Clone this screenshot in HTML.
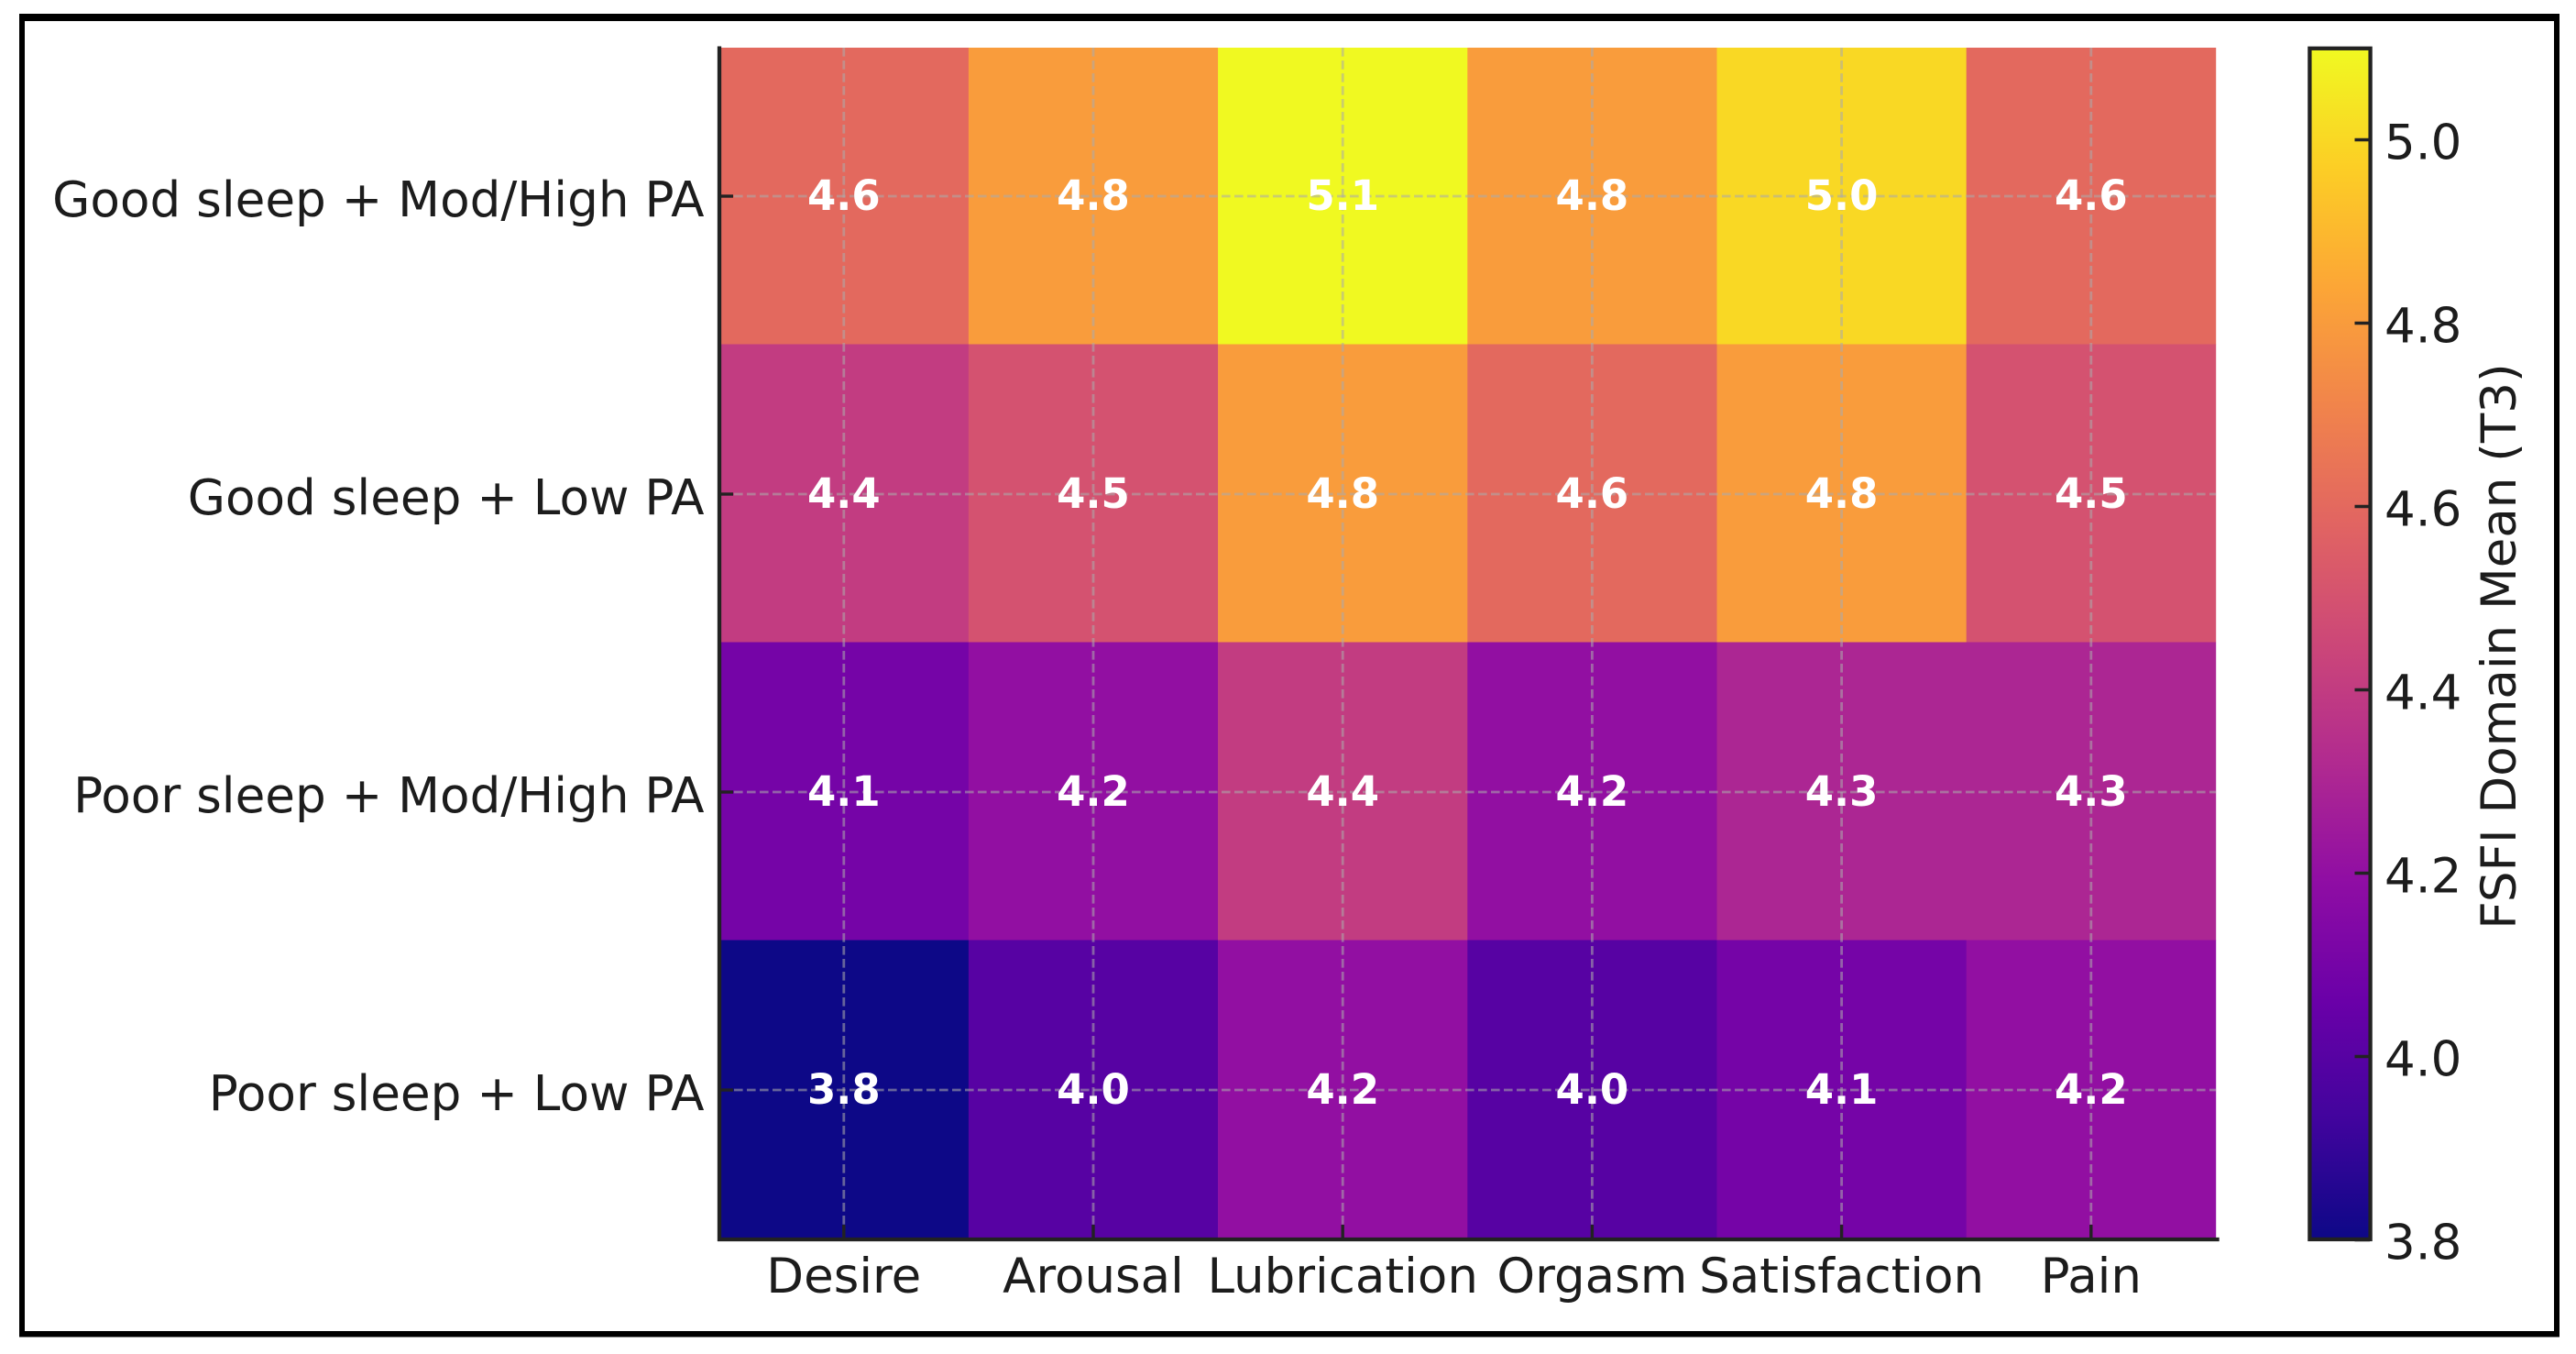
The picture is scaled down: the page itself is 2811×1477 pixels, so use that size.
<!DOCTYPE html>
<html lang="en">
<head>
<meta charset="utf-8">
<title>FSFI Domain Mean (T3) heatmap</title>
<style>
  html, body { margin: 0; padding: 0; background: #fff; }
  body { width: 2811px; height: 1477px; overflow: hidden; }
  svg { display: block; }
  text { font-family: "DejaVu Sans", "Liberation Sans", sans-serif; fill: #1c1c1c; }
</style>
</head>
<body>
<svg id="chart" xmlns="http://www.w3.org/2000/svg" width="2811" height="1477" viewBox="0 0 2811 1477">
  <rect x="0" y="0" width="2811" height="1477" fill="#ffffff"/>
  <g fill="#000000">
    <rect x="21" y="15" width="2772" height="8"/>
    <rect x="21" y="1452" width="2772" height="6.5"/>
    <rect x="21" y="15" width="6" height="1443.5"/>
    <rect x="2787" y="15" width="6" height="1443.5"/>
  </g>
  <defs>
    <clipPath id="plot-clip"><rect x="780" y="52" width="1640" height="1302"/></clipPath>
    <linearGradient id="plasma-gradient" gradientUnits="userSpaceOnUse" x1="0" y1="1352.5" x2="0" y2="52.5"></linearGradient>
  </defs>
  <g id="cells" clip-path="url(#plot-clip)"></g>
  <g id="grid"></g>
  <g id="annotations"></g>
  <g id="axes"></g>
  <g id="colorbar"></g>
</svg>
<script>
const columnLabels = ['Desire', 'Arousal', 'Lubrication', 'Orgasm', 'Satisfaction', 'Pain'];
const rowLabels = ['Good sleep + Mod/High PA', 'Good sleep + Low PA', 'Poor sleep + Mod/High PA', 'Poor sleep + Low PA'];
const goodSleepHighPA = [4.6, 4.8, 5.1, 4.8, 5.0, 4.6];
const goodSleepLowPA = [4.4, 4.5, 4.8, 4.6, 4.8, 4.5];
const poorSleepHighPA = [4.1, 4.2, 4.4, 4.2, 4.3, 4.3];
const poorSleepLowPA = [3.8, 4.0, 4.2, 4.0, 4.1, 4.2];
const colorbarTicks = [3.8, 4.0, 4.2, 4.4, 4.6, 4.8, 5.0];
const colorDomain = [3.8, 5.1];
const plasmaStops = ['#0d0887', '#41049d', '#6a00a8', '#8f0da4', '#b12a90', '#cc4778', '#e16462', '#f1844b', '#fca636', '#fcce25', '#f0f921'];

const matrix = [goodSleepHighPA, goodSleepLowPA, poorSleepHighPA, poorSleepLowPA];
const NS = 'http://www.w3.org/2000/svg';

// Axis functions
function colLeft(i) { return 784.7 + 272.2 * i; }
function colCenter(i) { return colLeft(i) + 136.1; }
function rowTop(i) { return 50.5 + 325 * i; }
function rowCenter(i) { return 214 + 325 * i; }
function colorbarY(v) { return 1352.5 - (v - colorDomain[0]) * 1000; }

function hexToRgb(h) {
  return [parseInt(h.slice(1, 3), 16), parseInt(h.slice(3, 5), 16), parseInt(h.slice(5, 7), 16)];
}
function colorFor(v) {
  const t = Math.max(0, Math.min(1, (v - colorDomain[0]) / (colorDomain[1] - colorDomain[0])));
  const pos = t * (plasmaStops.length - 1);
  const lo = Math.min(Math.floor(pos), plasmaStops.length - 2);
  const f = pos - lo;
  const a = hexToRgb(plasmaStops[lo]);
  const b = hexToRgb(plasmaStops[lo + 1]);
  return 'rgb(' + a.map(function (c, k) { return Math.round(c + (b[k] - c) * f); }).join(',') + ')';
}
function make(tag, parent, props) {
  const el = document.createElementNS(NS, tag);
  Object.keys(props).forEach(function (k) { el.setAttribute(k, props[k]); });
  parent.appendChild(el);
  return el;
}

const cellsGroup = document.getElementById('cells');
const gridGroup = document.getElementById('grid');
const annotationGroup = document.getElementById('annotations');
const axesGroup = document.getElementById('axes');
const colorbarGroup = document.getElementById('colorbar');
const gradient = document.getElementById('plasma-gradient');

// Heatmap cells and value labels
matrix.forEach(function (row, r) {
  row.forEach(function (value, c) {
    const cell = make('rect', cellsGroup, {
      x: colLeft(c), y: rowTop(r), width: 272.2 + 0.3, height: 325 + 0.3, fill: colorFor(value)
    });
    
    

    const label = make('text', annotationGroup, {
      x: colCenter(c), y: rowCenter(r) + 15, 'text-anchor': 'middle',
      'font-size': 45, 'font-weight': 'bold', style: 'fill:#ffffff'
    });
    
    
    label.textContent = value.toFixed(1);
  });
});

// Grid
const gridStyle = { stroke: '#aaaaaa', 'stroke-opacity': 0.57, 'stroke-width': 2.8, 'stroke-dasharray': '9.6 4.4', fill: 'none' };
columnLabels.forEach(function (name, c) {
  const line = make('line', gridGroup, Object.assign({ x1: colCenter(c), x2: colCenter(c), y1: 52, y2: 1350 }, gridStyle));
  
  
});
rowLabels.forEach(function (name, r) {
  const line = make('line', gridGroup, Object.assign({ x1: 787, x2: 2418, y1: rowCenter(r), y2: rowCenter(r) }, gridStyle));
  
  
});

// Axes: spines, ticks, tick labels
const leftSpine = make('line', axesGroup, { x1: 785, x2: 785, y1: 50.5, y2: 1354, stroke: '#222222', 'stroke-width': 4.3 });


const bottomSpine = make('line', axesGroup, { x1: 783, x2: 2421.7, y1: 1352, y2: 1352, stroke: '#222222', 'stroke-width': 4.3 });



rowLabels.forEach(function (name, r) {
  const tick = make('line', axesGroup, { x1: 785, x2: 800, y1: rowCenter(r), y2: rowCenter(r), stroke: '#222222', 'stroke-width': 3.4 });
  
  
  const label = make('text', axesGroup, { x: 768.5, y: rowCenter(r) + 22, 'text-anchor': 'end', 'font-size': 53.2 });
  
  
  label.textContent = name;
});
columnLabels.forEach(function (name, c) {
  const tick = make('line', axesGroup, { x1: colCenter(c), x2: colCenter(c), y1: 1336, y2: 1352, stroke: '#222222', 'stroke-width': 3.4 });
  
  
  const label = make('text', axesGroup, { x: colCenter(c), y: 1410, 'text-anchor': 'middle', 'font-size': 53 });
  
  
  label.textContent = name;
});

// Colorbar
plasmaStops.forEach(function (color, i) {
  const stop = make('stop', gradient, { offset: i / (plasmaStops.length - 1), 'stop-color': color });
  
  
});
const bar = make('rect', colorbarGroup, {
  x: 2520.4, y: colorbarY(colorDomain[1]), width: 66.2,
  height: colorbarY(colorDomain[0]) - colorbarY(colorDomain[1]), fill: 'url(#plasma-gradient)'
});


colorbarTicks.forEach(function (value) {
  const y = colorbarY(value);
  const tick = make('line', colorbarGroup, { x1: 2569.5, x2: 2586, y1: y, y2: y, stroke: '#222222', 'stroke-width': 3.4 });
  
  
  const label = make('text', colorbarGroup, { x: 2602, y: y + 21, 'font-size': 53 });
  
  
  label.textContent = value.toFixed(1);
});
const barOutline = make('rect', colorbarGroup, {
  x: 2520.4, y: 52.8, width: 66.2, height: 1299.1, fill: 'none', stroke: '#222222', 'stroke-width': 4.3
});


const barTitle = make('text', colorbarGroup, {
  transform: 'translate(2745 705) rotate(-90)', 'text-anchor': 'middle', 'font-size': 53
});


barTitle.textContent = 'FSFI Domain Mean (T3)';
</script>
</body>
</html>
